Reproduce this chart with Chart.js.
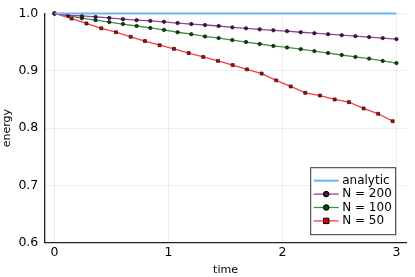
<!DOCTYPE html>
<html>
<head>
<meta charset="utf-8">
<script src="https://cdn.jsdelivr.net/npm/chart.js@4.4.1/dist/chart.umd.min.js"></script>
<style>
  html, body { margin: 0; padding: 0; background: #fff; }
  #wrap { width: 415px; height: 277px; }
</style>
</head>
<body>
<div id="wrap"><canvas id="energy"></canvas></div>
<script>
// values
const analyticT = [0, 3];
const analyticE = [1, 1];

const timeN200 = [0, 0.12, 0.24, 0.36, 0.48, 0.6, 0.72, 0.84, 0.96, 1.08, 1.2, 1.32, 1.44,
  1.56, 1.68, 1.8, 1.92, 2.04, 2.16, 2.28, 2.4, 2.52, 2.64, 2.76, 2.88, 3.0];
const energyN200 = [1.0000, 0.9969, 0.9957, 0.9940, 0.9923, 0.9901, 0.9884, 0.9872, 0.9855,
  0.9833, 0.9816, 0.9799, 0.9782, 0.9758, 0.9741, 0.9724, 0.9707, 0.9692, 0.9673, 0.9656,
  0.9639, 0.9622, 0.9605, 0.9588, 0.9571, 0.9553];

const timeN100 = timeN200;
const energyN100 = [1.0000, 0.9963, 0.9918, 0.9884, 0.9850, 0.9816, 0.9782, 0.9748, 0.9714,
  0.9673, 0.9639, 0.9599, 0.9571, 0.9536, 0.9502, 0.9468, 0.9434, 0.9407, 0.9378, 0.9344,
  0.9310, 0.9276, 0.9242, 0.9213, 0.9173, 0.9134];

const timeN50 = [0, 0.15, 0.28, 0.41, 0.539, 0.668, 0.793, 0.922, 1.048, 1.177, 1.305, 1.434,
  1.563, 1.688, 1.817, 1.945, 2.072, 2.2, 2.329, 2.458, 2.583, 2.712, 2.84, 2.967];
const energyN50 = [1.0000, 0.9911, 0.9826, 0.9741, 0.9673, 0.9594, 0.9519, 0.9446, 0.9383,
  0.9310, 0.9242, 0.9173, 0.9100, 0.9025, 0.8952, 0.8833, 0.8727, 0.8616, 0.8568, 0.8500,
  0.8453, 0.8343, 0.8250, 0.8121];

const xTicks = [0, 1, 2, 3];
const yTicks = [0.6, 0.7, 0.8, 0.9, 1.0];

const pts = (xs, ys) => xs.map((x, i) => ({ x: x, y: ys[i] }));

Chart.defaults.font.family = "'DejaVu Sans', sans-serif";
Chart.defaults.color = "#000";

// legend box in the lower right corner of the plot, like the original
const boxLegend = {
  id: "boxLegend",
  afterDraw(chart) {
    const { ctx, chartArea } = chart;
    const w = 85, h = 67;
    const x0 = chartArea.right - 11.5 - w;
    const y0 = chartArea.bottom - 8.5 - h;
    ctx.save();
    ctx.fillStyle = "#fff";
    ctx.fillRect(x0, y0, w, h);
    ctx.strokeStyle = "#333";
    ctx.lineWidth = 1;
    ctx.strokeRect(x0 + 0.5, y0 + 0.5, w, h);
    ctx.font = "12px 'DejaVu Sans'";
    ctx.textBaseline = "middle";
    chart.data.datasets.forEach((ds, i) => {
      const yy = y0 + 13.5 + i * 13.4;
      ctx.strokeStyle = ds.borderColor;
      ctx.lineWidth = ds.borderWidth;
      ctx.beginPath();
      ctx.moveTo(x0 + 3.5, yy);
      ctx.lineTo(x0 + 28.5, yy);
      ctx.stroke();
      if (ds.pointRadius > 0) {
        ctx.fillStyle = ds.pointBackgroundColor;
        ctx.strokeStyle = "#000";
        ctx.lineWidth = 1;
        ctx.beginPath();
        if (ds.pointStyle === "rect") {
          ctx.rect(x0 + 16 - 2.7, yy - 2.7, 5.4, 5.4);
        } else {
          ctx.arc(x0 + 16, yy, 2.8, 0, Math.PI * 2);
        }
        ctx.fill();
        ctx.stroke();
      }
      ctx.fillStyle = "#000";
      ctx.fillText(ds.label, x0 + 32, yy);
    });
    ctx.restore();
  }
};

const series = (label, data, line, fill, style, radius) => ({
  label: label,
  data: data,
  showLine: true,
  borderColor: line,
  borderWidth: 1.3,
  pointStyle: style,
  pointRadius: radius,
  pointBackgroundColor: fill,
  pointBorderColor: "#111",
  pointBorderWidth: 0.7,
  tension: 0,
  clip: 6
});

new Chart(document.getElementById("energy"), {
  type: "scatter",
  data: {
    datasets: [
      {
        label: "analytic",
        data: pts(analyticT, analyticE),
        showLine: true,
        borderColor: "#6cb6f2",
        borderWidth: 2,
        pointRadius: 0,
        clip: 6
      },
      series("N = 200", pts(timeN200, energyN200), "#9a3f9a", "#4a0f4a", "circle", 1.7),
      series("N = 100", pts(timeN100, energyN100), "#3d9140", "#0f3f12", "circle", 1.7),
      series("N = 50", pts(timeN50, energyN50), "#ff3a3a", "#d00000", "rect", 2.1)
    ]
  },
  options: {
    responsive: true,
    maintainAspectRatio: false,
    animation: false,
    layout: { padding: { left: 0, right: 8.3, top: 7.5, bottom: 0 } },
    plugins: {
      legend: { display: false },
      tooltip: { enabled: false }
    },
    scales: {
      x: {
        type: "linear",
        min: -0.09,
        max: 3.09,
        afterBuildTicks: (s) => { s.ticks = xTicks.map((v) => ({ value: v })); },
        afterFit: (s) => { s.height = 34.3; },
        ticks: { padding: 3, font: { size: 12.5 }, callback: (v) => String(v) },
        grid: { color: "rgba(0,0,0,0.07)", drawTicks: false },
        border: { color: "#222", width: 1.3 },
        title: { display: true, text: "time", font: { size: 11 }, padding: { top: 1.5, bottom: 0 } }
      },
      y: {
        type: "linear",
        min: 0.6,
        max: 1.0,
        afterBuildTicks: (s) => { s.ticks = yTicks.map((v) => ({ value: v })); },
        afterFit: (s) => { s.width = 44.3; },
        ticks: { padding: 6, font: { size: 12.5 }, callback: (v) => v.toFixed(1) },
        grid: { color: "rgba(0,0,0,0.07)", drawTicks: false },
        border: { color: "#222", width: 1.3 },
        title: { display: true, text: "energy", font: { size: 11 }, padding: { top: 0.5, bottom: 0 } }
      }
    }
  },
  plugins: [boxLegend]
});
</script>
</body>
</html>
